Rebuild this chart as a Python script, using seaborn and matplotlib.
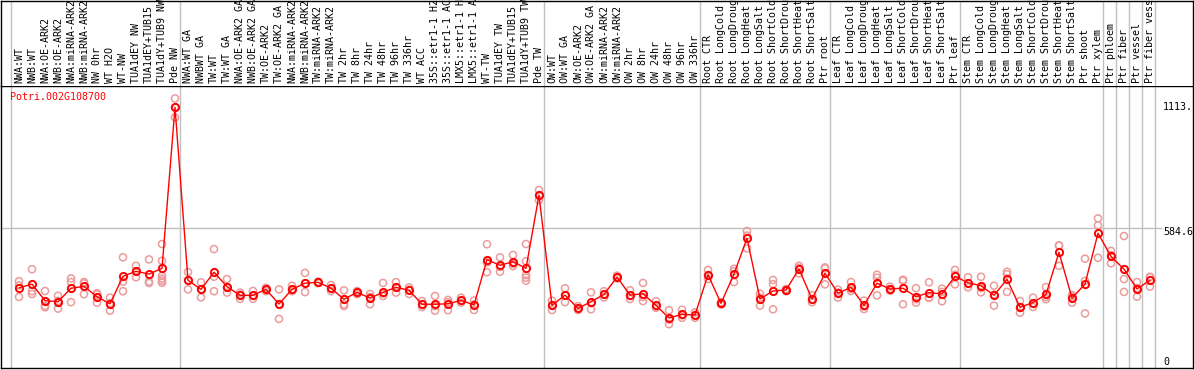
import matplotlib
matplotlib.use("Agg")
import matplotlib.pyplot as plt
import seaborn as sns
import pandas as pd
import numpy as np

gene = "Potri.002G108700"

samples = [
    "NWA:WT", "NWB:WT", "NWA:OE-ARK2", "NWB:OE-ARK2", "NWA:miRNA-ARK2", "NWB:miRNA-ARK2",
    "NW 0hr", "WT H2O", "WT-NW", "TUA1dEY NW", "TUA1dEY+TUB15", "TUA1dY+TUB9 NW", "Pde NW",
    "NWA:WT GA", "NWBWT GA", "TW:WT", "TW:WT GA", "NWA:OE-ARK2 GA", "NWB:OE-ARK2 GA",
    "TW:OE-ARK2", "TW:OE-ARK2 GA", "NWA:miRNA-ARK2", "NWB:miRNA-ARK2", "TW:miRNA-ARK2",
    "TW:miRNA-ARK2", "TW 2hr", "TW 8hr", "TW 24hr", "TW 48hr", "TW 96hr", "TW 336hr",
    "WT ACC", "35S::etr1-1 H2", "35S::etr1-1 AC", "LMX5::etr1-1 H", "LMX5::etr1-1 A",
    "WT-TW", "TUA1dEY TW", "TUA1dEY+TUB15", "TUA1dY+TUB9 TW", "Pde TW",
    "OW:WT", "OW:WT GA", "OW:OE-ARK2", "OW:OE-ARK2 GA", "OW:miRNA-ARK2", "OW:miRNA-ARK2",
    "OW 2hr", "OW 8hr", "OW 24hr", "OW 48hr", "OW 96hr", "OW 336hr",
    "Root CTR", "Root LongCold", "Root LongDroug", "Root LongHeat", "Root LongSalt",
    "Root ShortCold", "Root ShortDrou", "Root ShortHeat", "Root ShortSalt", "Ptr root",
    "Leaf CTR", "Leaf LongCold", "Leaf LongDroug", "Leaf LongHeat", "Leaf LongSalt",
    "Leaf ShortCold", "Leaf ShortDrou", "Leaf ShortHeat", "Leaf ShortSalt", "Ptr leaf",
    "Stem CTR", "Stem LongCold", "Stem LongDroug", "Stem LongHeat", "Stem LongSalt",
    "Stem ShortCold", "Stem ShortDrou", "Stem ShortHeat", "Stem ShortSalt", "Ptr shoot",
    "Ptr xylem",
    "Ptr phloem", "Ptr fiber", "Ptr vessel", "Ptr fiber vess",
]

means = [
    325, 341, 269, 264, 323, 331, 286, 255, 375, 397, 385, 410, 1113,
    358, 318, 393, 330, 292, 292, 318, 254, 318, 345, 349, 323, 275, 305, 280, 305,
    327, 314, 253, 253, 255, 270, 250, 448, 423, 439, 410, 729,
    248, 293, 235, 264, 296, 372, 293, 299, 248, 193, 209, 206,
    382, 257, 385, 541, 276, 311, 315, 407, 276, 388,
    301, 327, 248, 345, 320, 323, 286, 304, 298, 375,
    347, 334, 292, 362, 240, 260, 296, 480, 280, 341, 563,
    462, 406, 320, 358,
]

replicates = [
    [354, 285, 335], [406, 310, 298], [311, 246, 240], [290, 234, 268], [366, 350, 262],
    [350, 344, 297], [301, 260, 296], [282, 225, 258], [458, 352, 310], [421, 371, 397],
    [449, 352, 346], [516, 443, 377, 365, 356, 347], [1152, 1069, 1113],
    [394, 318, 358], [349, 283, 318], [494, 373, 310], [363, 304, 325], [304, 277, 295],
    [311, 277, 290], [325, 310, 318], [318, 189, 254], [334, 310, 318], [390, 306, 345],
    [349, 345, 352], [337, 311, 323], [314, 253, 245], [311, 297, 305], [298, 253, 285],
    [346, 289, 300], [350, 304, 327], [327, 298, 316], [267, 241, 253], [289, 225, 245],
    [272, 227, 262], [282, 260, 270], [269, 228, 252], [515, 393, 436], [458, 395, 416],
    [468, 420, 430], [516, 441, 380, 369, 356], [752, 708, 729],
    [269, 228, 248], [323, 262, 293], [245, 228, 235], [305, 231, 258], [310, 283, 296],
    [378, 366, 372], [314, 276, 290], [346, 267, 285], [266, 240, 238], [227, 166, 186],
    [229, 194, 205], [218, 194, 206],
    [403, 363, 380], [262, 252, 257], [408, 350, 397], [573, 497, 553], [299, 247, 282],
    [359, 341, 231], [320, 310, 315], [421, 388, 412], [293, 262, 273], [410, 340, 414],
    [317, 282, 304], [350, 311, 320], [269, 232, 243], [382, 369, 292], [330, 312, 318],
    [360, 253, 356], [323, 260, 275], [349, 282, 281], [321, 266, 307], [403, 340, 382],
    [371, 327, 343], [373, 305, 324], [334, 247, 295], [395, 307, 384], [267, 216, 237],
    [282, 241, 257], [328, 275, 285], [509, 421, 510], [293, 260, 287], [452, 355, 213],
    [628, 598, 456],
    [486, 432, 468], [551, 363, 307], [350, 286, 324], [371, 330, 373],
]

# last sample index of each group (group separators drawn after these)
group_ends = [-1, 12, 40, 52, 62, 72, 83, 84, 85, 86, 87]

axis_labels = ["1113.", "584.6", "0"]
axis_values = [1113, 584.6, 0]

sns.set_style("white")
plt.rcParams["font.family"] = ["DejaVu Sans Mono", "DejaVu Sans"]

W, H = 1194, 370
fig = plt.figure(figsize=(W / 100, H / 100), dpi=100)

px = 13.0          # pixels per sample
x0_px = 18.0       # offset of first sample from axes left
ax_left, ax_right = 1, 1193
plot_top, plot_bot = 86, 368
zero_px = 362.2
ppu = 0.229        # pixels per unit

xmin = -x0_px / px
xmax = xmin + (ax_right - ax_left) / px
ymax = (zero_px - plot_top) / ppu
ymin = -(plot_bot - zero_px) / ppu

ax = fig.add_axes([ax_left / W, (H - plot_bot) / H, (ax_right - ax_left) / W, (plot_bot - plot_top) / H])
lab = fig.add_axes([ax_left / W, (H - plot_top) / H, (ax_right - ax_left) / W, (plot_top - 0.5) / H])

grid_c = "#c0c0c0"
for a in (ax, lab):
    a.set_xlim(xmin, xmax)
    a.set_xticks([])
    a.set_yticks([])
    for s in a.spines.values():
        s.set_color("black")
        s.set_linewidth(1.0)
    for g in group_ends:
        a.axvline(g + 0.38, color=grid_c, lw=1.0, zorder=0)
lab.set_ylim(0, 1)
lab.spines["bottom"].set_visible(False)
ax.set_ylim(ymin, ymax)

# horizontal grid line
ax.hlines(584.6, xmin, (1162 - 19) / px, color=grid_c, lw=1.0, zorder=0)

# replicates
rx, ry = [], []
for i, reps in enumerate(replicates):
    for r in reps:
        rx.append(i)
        ry.append(r)
rep_df = pd.DataFrame({"x": rx, "y": ry})
sns.scatterplot(data=rep_df, x="x", y="y", ax=ax, marker="o", s=26,
                facecolors="none", edgecolor="#ec9b9b", linewidth=1.1, zorder=2, legend=False)

mean_df = pd.DataFrame({"x": np.arange(len(means)), "y": means})
sns.lineplot(data=mean_df, x="x", y="y", ax=ax, color="red", lw=1.0, marker="o",
             markersize=5.2, markerfacecolor="none", markeredgecolor="red",
             markeredgewidth=1.4, zorder=3, legend=False)
ax.set_xlabel("")
ax.set_ylabel("")

# sample labels
for i, name in enumerate(samples):
    lab.text(i, 3 / 86, name, rotation=90, ha="center", va="bottom",
             fontsize=7.2, color="black", clip_on=False)

# gene name
ax.text((10 - 19) / px, (zero_px - 97) / ppu, gene, color="red", fontsize=7.2,
        ha="left", va="center")

# value labels on right
offsets = [0, -4, 0]
for t, v, o in zip(axis_labels, axis_values, offsets):
    ax.text((1163 - 19) / px, v + o / ppu, t, fontsize=7.2, ha="left", va="center", color="black")

fig.savefig("out.png", dpi=100)
